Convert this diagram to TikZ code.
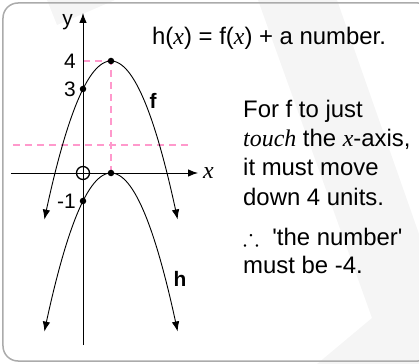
\documentclass[tikz,border=0pt]{standalone}
\usepackage{fontspec}
\usepackage{amssymb}
\setmainfont{Liberation Sans}
\newfontfamily\timesfont{Liberation Serif}
\usetikzlibrary{arrows.meta}
\definecolor{guidePink}{HTML}{FF99CC}
\definecolor{frameGray}{HTML}{ABABAB}
\definecolor{shadeGray}{HTML}{F5F5F5}
\newcommand{\varx}{{\timesfont\itshape x}}

\begin{document}
\begin{tikzpicture}[
    x=28bp, y=28bp,
    myarrow/.style={line width=0.9bp, -{Latex[length=10bp,width=7.5bp]}},
    curveline/.style={line width=0.9bp, {Latex[length=10bp,width=7.5bp]}-{Latex[length=10bp,width=7.5bp]}},
    guide/.style={guidePink, line width=1.2bp, dash pattern=on 7bp off 5bp},
    dot/.style={circle, fill=black, inner sep=0pt, minimum size=6.5bp},
    textstyle/.style={font=\fontsize{24}{29.3}\selectfont, inner sep=0pt},
    ticklabel/.style={font=\fontsize{21}{24}\selectfont, inner sep=0pt},
    curvename/.style={font=\fontsize{21}{24}\selectfont\bfseries, inner sep=0pt}
]

    % ==========================================
    % 1. FRAME AND BACKGROUND
    % ==========================================
    \useasboundingbox (-83bp,-191bp) rectangle (336bp,173bp);

    \fill[shadeGray] (-36bp,173bp) -- (32bp,173bp) -- (-26bp,148bp) -- cycle;
    \fill[shadeGray] (175bp,173bp) -- (254bp,173bp) -- (336bp,-61bp)
        -- (336bp,-191bp) -- (234bp,-191bp) -- (289bp,-145bp) -- cycle;

    \draw[frameGray, line width=1.5bp, rounded corners=15bp] (-80bp,-188bp) rectangle (350bp,170bp);

    % ==========================================
    % 2. GUIDES AND AXES
    % ==========================================
    \draw[guide] (-70bp,1) -- (107bp,1);
    \draw[guide] (1,0) -- (1,4);
    \draw[guide] (0,4) -- (1,4);

    \draw[myarrow] (-72bp,0) -- (115bp,0);
    \draw[myarrow] (0,-172bp) -- (0,160bp);

    \node[textstyle, anchor=west] (xlabel) at (120bp,0) {\varx};
    \node[ticklabel, anchor=east] (ylabel) at (-10bp,151bp) {y};

    % ==========================================
    % 3. CURVES f AND h
    % ==========================================
    \draw[curveline] plot[domain=-1.38:3.38, samples=80, smooth] (\x,{4-(\x-1)^2});
    \draw[curveline] plot[domain=-1.38:3.38, samples=80, smooth] (\x,{-(\x-1)^2});

    \node[dot] (fcut) at (0,3) {};
    \node[dot] (ftop) at (1,4) {};
    \node[dot] (htop) at (1,0) {};
    \node[dot] (hcut) at (0,-1) {};
    \node[circle, draw, line width=1.3bp, minimum size=13bp, inner sep=0pt] (origin) at (0,0) {};

    \node[ticklabel, anchor=east] (tfour) at (-7bp,4) {4};
    \node[ticklabel, anchor=east] (tthree) at (-7bp,3) {3};
    \node[ticklabel, anchor=east] (tminus) at (-7bp,-1) {-1};

    \node[curvename] (fname) at (70bp,72bp) {f};
    \node[curvename] (hname) at (97bp,-106bp) {h};

    % ==========================================
    % 4. EXPLANATION TEXT
    % ==========================================
    \node[textstyle, anchor=base west] (rule) at (69bp,128bp) {h(\varx) = f(\varx) + a number.};

    % base of a multi-line node sits on its last line
    \node[textstyle, anchor=base west, align=left] (explain) at (160bp,-32bp) {For f to just\\
        {\timesfont\itshape touch} the \varx-axis,\\
        it must move\\
        down 4 units.};

    \node[textstyle, font=\fontsize{24}{28}\selectfont, anchor=base west, align=left] (answer) at (160bp,-100bp)
        {$\therefore$\ \ \textquotesingle the number\textquotesingle\\
        must be -4.};

\end{tikzpicture}
\end{document}
